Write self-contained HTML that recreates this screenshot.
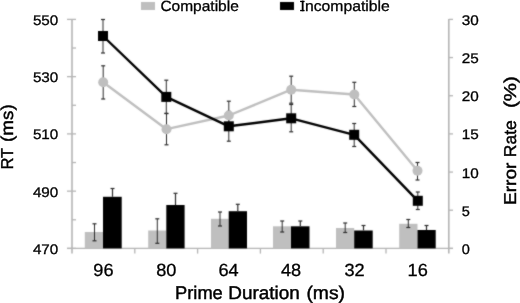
<!DOCTYPE html>
<html><head><meta charset="utf-8"><style>
html,body{margin:0;padding:0;background:#fff;width:520px;height:303px;overflow:hidden}
svg{display:block;filter:grayscale(1)}
text{font-family:"Liberation Sans",sans-serif;text-rendering:geometricPrecision;stroke:#000;stroke-width:0.3px}
.b{stroke-width:0.45px}
</style></head><body>
<svg width="520" height="303" viewBox="0 0 520 303">
<defs><filter id="soft" x="0" y="0" width="520" height="303" filterUnits="userSpaceOnUse" color-interpolation-filters="sRGB"><feConvolveMatrix order="3" kernelMatrix="1 2 1 2 16 2 1 2 1" divisor="28" edgeMode="duplicate"/></filter></defs>
<g filter="url(#soft)">
<rect x="0" y="0" width="520" height="303" fill="#fff"/>
<line x1="72" y1="18.9" x2="72" y2="253.6" stroke="#b4b4b4" stroke-width="1.6"/>
<line x1="448.8" y1="18.9" x2="448.8" y2="253.6" stroke="#b4b4b4" stroke-width="1.6"/>
<line x1="67" y1="248.4" x2="453" y2="248.4" stroke="#b4b4b4" stroke-width="1.3"/>
<line x1="67" y1="19.4" x2="76" y2="19.4" stroke="#b4b4b4" stroke-width="1.3"/>
<line x1="67" y1="76.65" x2="76" y2="76.65" stroke="#b4b4b4" stroke-width="1.3"/>
<line x1="67" y1="133.9" x2="76" y2="133.9" stroke="#b4b4b4" stroke-width="1.3"/>
<line x1="67" y1="191.15" x2="76" y2="191.15" stroke="#b4b4b4" stroke-width="1.3"/>
<line x1="67" y1="248.4" x2="76" y2="248.4" stroke="#b4b4b4" stroke-width="1.3"/>
<line x1="72" y1="48.02" x2="76" y2="48.02" stroke="#b4b4b4" stroke-width="1.3"/>
<line x1="72" y1="105.28" x2="76" y2="105.28" stroke="#b4b4b4" stroke-width="1.3"/>
<line x1="72" y1="162.53" x2="76" y2="162.53" stroke="#b4b4b4" stroke-width="1.3"/>
<line x1="72" y1="219.78" x2="76" y2="219.78" stroke="#b4b4b4" stroke-width="1.3"/>
<line x1="448.8" y1="19.4" x2="453" y2="19.4" stroke="#b4b4b4" stroke-width="1.3"/>
<line x1="448.8" y1="57.57" x2="453" y2="57.57" stroke="#b4b4b4" stroke-width="1.3"/>
<line x1="448.8" y1="95.73" x2="453" y2="95.73" stroke="#b4b4b4" stroke-width="1.3"/>
<line x1="448.8" y1="133.9" x2="453" y2="133.9" stroke="#b4b4b4" stroke-width="1.3"/>
<line x1="448.8" y1="172.07" x2="453" y2="172.07" stroke="#b4b4b4" stroke-width="1.3"/>
<line x1="448.8" y1="210.23" x2="453" y2="210.23" stroke="#b4b4b4" stroke-width="1.3"/>
<line x1="448.8" y1="248.4" x2="453" y2="248.4" stroke="#b4b4b4" stroke-width="1.3"/>
<line x1="134.8" y1="248.4" x2="134.8" y2="253.6" stroke="#b4b4b4" stroke-width="1.3"/>
<line x1="197.6" y1="248.4" x2="197.6" y2="253.6" stroke="#b4b4b4" stroke-width="1.3"/>
<line x1="260.4" y1="248.4" x2="260.4" y2="253.6" stroke="#b4b4b4" stroke-width="1.3"/>
<line x1="323.2" y1="248.4" x2="323.2" y2="253.6" stroke="#b4b4b4" stroke-width="1.3"/>
<line x1="386" y1="248.4" x2="386" y2="253.6" stroke="#b4b4b4" stroke-width="1.3"/>
<rect x="84.8" y="232" width="18.2" height="16.4" fill="#bfbfbf"/>
<rect x="103" y="196.8" width="18.7" height="51.6" fill="#000"/>
<rect x="148.2" y="230.5" width="18.1" height="17.9" fill="#bfbfbf"/>
<rect x="166.3" y="205" width="18.3" height="43.4" fill="#000"/>
<rect x="211" y="218.8" width="17.7" height="29.6" fill="#bfbfbf"/>
<rect x="228.7" y="211.2" width="18.3" height="37.2" fill="#000"/>
<rect x="273" y="226.3" width="18" height="22.1" fill="#bfbfbf"/>
<rect x="291" y="226.3" width="18.5" height="22.1" fill="#000"/>
<rect x="336" y="228" width="18.2" height="20.4" fill="#bfbfbf"/>
<rect x="354.2" y="230.5" width="18.5" height="17.9" fill="#000"/>
<rect x="399.2" y="223.8" width="18.3" height="24.6" fill="#bfbfbf"/>
<rect x="417.5" y="230" width="18.2" height="18.4" fill="#000"/>
<line x1="94.5" y1="223.8" x2="94.5" y2="240.8" stroke="#2c2c2c" stroke-width="1.0"/><line x1="92.5" y1="223.8" x2="96.5" y2="223.8" stroke="#2c2c2c" stroke-width="1.2"/><line x1="92.5" y1="240.8" x2="96.5" y2="240.8" stroke="#2c2c2c" stroke-width="1.2"/>
<line x1="112.5" y1="188.5" x2="112.5" y2="196.8" stroke="#2c2c2c" stroke-width="1.2"/>
<line x1="110.5" y1="188.5" x2="114.5" y2="188.5" stroke="#2c2c2c" stroke-width="1.2"/>
<line x1="157.3" y1="218.8" x2="157.3" y2="243.3" stroke="#2c2c2c" stroke-width="1.0"/><line x1="155.3" y1="218.8" x2="159.3" y2="218.8" stroke="#2c2c2c" stroke-width="1.2"/><line x1="155.3" y1="243.3" x2="159.3" y2="243.3" stroke="#2c2c2c" stroke-width="1.2"/>
<line x1="175.5" y1="193.3" x2="175.5" y2="205" stroke="#2c2c2c" stroke-width="1.2"/>
<line x1="173.5" y1="193.3" x2="177.5" y2="193.3" stroke="#2c2c2c" stroke-width="1.2"/>
<line x1="220" y1="212" x2="220" y2="226" stroke="#2c2c2c" stroke-width="1.0"/><line x1="218" y1="212" x2="222" y2="212" stroke="#2c2c2c" stroke-width="1.2"/><line x1="218" y1="226" x2="222" y2="226" stroke="#2c2c2c" stroke-width="1.2"/>
<line x1="237.8" y1="204.3" x2="237.8" y2="211.2" stroke="#2c2c2c" stroke-width="1.2"/>
<line x1="235.8" y1="204.3" x2="239.8" y2="204.3" stroke="#2c2c2c" stroke-width="1.2"/>
<line x1="282.2" y1="221" x2="282.2" y2="232" stroke="#2c2c2c" stroke-width="1.0"/><line x1="280.2" y1="221" x2="284.2" y2="221" stroke="#2c2c2c" stroke-width="1.2"/><line x1="280.2" y1="232" x2="284.2" y2="232" stroke="#2c2c2c" stroke-width="1.2"/>
<line x1="300.3" y1="221" x2="300.3" y2="226.3" stroke="#2c2c2c" stroke-width="1.2"/>
<line x1="298.3" y1="221" x2="302.3" y2="221" stroke="#2c2c2c" stroke-width="1.2"/>
<line x1="345.2" y1="223" x2="345.2" y2="232.5" stroke="#2c2c2c" stroke-width="1.0"/><line x1="343.2" y1="223" x2="347.2" y2="223" stroke="#2c2c2c" stroke-width="1.2"/><line x1="343.2" y1="232.5" x2="347.2" y2="232.5" stroke="#2c2c2c" stroke-width="1.2"/>
<line x1="363.5" y1="225.5" x2="363.5" y2="230.5" stroke="#2c2c2c" stroke-width="1.2"/>
<line x1="361.5" y1="225.5" x2="365.5" y2="225.5" stroke="#2c2c2c" stroke-width="1.2"/>
<line x1="408.3" y1="219.5" x2="408.3" y2="227.5" stroke="#2c2c2c" stroke-width="1.0"/><line x1="406.3" y1="219.5" x2="410.3" y2="219.5" stroke="#2c2c2c" stroke-width="1.2"/><line x1="406.3" y1="227.5" x2="410.3" y2="227.5" stroke="#2c2c2c" stroke-width="1.2"/>
<line x1="426.5" y1="225.5" x2="426.5" y2="230" stroke="#2c2c2c" stroke-width="1.2"/>
<line x1="424.5" y1="225.5" x2="428.5" y2="225.5" stroke="#2c2c2c" stroke-width="1.2"/>
<polyline points="103.2,82.2 166.5,129.2 228.8,115.5 291.2,89.7 354.3,94.5 417.5,170.8" fill="none" stroke="#bfbfbf" stroke-width="2.4" stroke-linejoin="round"/>
<polyline points="103,36 166.3,96.9 228.8,126.3 291.2,118.3 354.2,134.8 417.8,200.8" fill="none" stroke="#000" stroke-width="2.4" stroke-linejoin="round"/>
<line x1="103.2" y1="65.8" x2="103.2" y2="99" stroke="#2c2c2c" stroke-width="1.0"/><line x1="101.2" y1="65.8" x2="105.2" y2="65.8" stroke="#2c2c2c" stroke-width="1.2"/><line x1="101.2" y1="99" x2="105.2" y2="99" stroke="#2c2c2c" stroke-width="1.2"/>
<line x1="166.5" y1="113.6" x2="166.5" y2="144.8" stroke="#2c2c2c" stroke-width="1.0"/><line x1="164.5" y1="113.6" x2="168.5" y2="113.6" stroke="#2c2c2c" stroke-width="1.2"/><line x1="164.5" y1="144.8" x2="168.5" y2="144.8" stroke="#2c2c2c" stroke-width="1.2"/>
<line x1="228.8" y1="101.2" x2="228.8" y2="129.8" stroke="#2c2c2c" stroke-width="1.0"/><line x1="226.8" y1="101.2" x2="230.8" y2="101.2" stroke="#2c2c2c" stroke-width="1.2"/><line x1="226.8" y1="129.8" x2="230.8" y2="129.8" stroke="#2c2c2c" stroke-width="1.2"/>
<line x1="291.2" y1="76.2" x2="291.2" y2="103.2" stroke="#2c2c2c" stroke-width="1.0"/><line x1="289.2" y1="76.2" x2="293.2" y2="76.2" stroke="#2c2c2c" stroke-width="1.2"/><line x1="289.2" y1="103.2" x2="293.2" y2="103.2" stroke="#2c2c2c" stroke-width="1.2"/>
<line x1="354.3" y1="82.3" x2="354.3" y2="106.5" stroke="#2c2c2c" stroke-width="1.0"/><line x1="352.3" y1="82.3" x2="356.3" y2="82.3" stroke="#2c2c2c" stroke-width="1.2"/><line x1="352.3" y1="106.5" x2="356.3" y2="106.5" stroke="#2c2c2c" stroke-width="1.2"/>
<line x1="417.5" y1="162.5" x2="417.5" y2="180" stroke="#2c2c2c" stroke-width="1.0"/><line x1="415.5" y1="162.5" x2="419.5" y2="162.5" stroke="#2c2c2c" stroke-width="1.2"/><line x1="415.5" y1="180" x2="419.5" y2="180" stroke="#2c2c2c" stroke-width="1.2"/>
<line x1="103" y1="19.5" x2="103" y2="53" stroke="#2c2c2c" stroke-width="1.0"/><line x1="101" y1="19.5" x2="105" y2="19.5" stroke="#2c2c2c" stroke-width="1.2"/><line x1="101" y1="53" x2="105" y2="53" stroke="#2c2c2c" stroke-width="1.2"/>
<line x1="166.3" y1="80.2" x2="166.3" y2="113.3" stroke="#2c2c2c" stroke-width="1.0"/><line x1="164.3" y1="80.2" x2="168.3" y2="80.2" stroke="#2c2c2c" stroke-width="1.2"/><line x1="164.3" y1="113.3" x2="168.3" y2="113.3" stroke="#2c2c2c" stroke-width="1.2"/>
<line x1="228.8" y1="111.4" x2="228.8" y2="141.2" stroke="#2c2c2c" stroke-width="1.0"/><line x1="226.8" y1="111.4" x2="230.8" y2="111.4" stroke="#2c2c2c" stroke-width="1.2"/><line x1="226.8" y1="141.2" x2="230.8" y2="141.2" stroke="#2c2c2c" stroke-width="1.2"/>
<line x1="291.2" y1="104.5" x2="291.2" y2="131.8" stroke="#2c2c2c" stroke-width="1.0"/><line x1="289.2" y1="104.5" x2="293.2" y2="104.5" stroke="#2c2c2c" stroke-width="1.2"/><line x1="289.2" y1="131.8" x2="293.2" y2="131.8" stroke="#2c2c2c" stroke-width="1.2"/>
<line x1="354.2" y1="123.5" x2="354.2" y2="146.5" stroke="#2c2c2c" stroke-width="1.0"/><line x1="352.2" y1="123.5" x2="356.2" y2="123.5" stroke="#2c2c2c" stroke-width="1.2"/><line x1="352.2" y1="146.5" x2="356.2" y2="146.5" stroke="#2c2c2c" stroke-width="1.2"/>
<line x1="417.8" y1="192" x2="417.8" y2="209.5" stroke="#2c2c2c" stroke-width="1.0"/><line x1="415.8" y1="192" x2="419.8" y2="192" stroke="#2c2c2c" stroke-width="1.2"/><line x1="415.8" y1="209.5" x2="419.8" y2="209.5" stroke="#2c2c2c" stroke-width="1.2"/>
<circle cx="103.2" cy="82.2" r="5" fill="#bfbfbf"/>
<circle cx="166.5" cy="129.2" r="5" fill="#bfbfbf"/>
<circle cx="228.8" cy="115.5" r="5" fill="#bfbfbf"/>
<circle cx="291.2" cy="89.7" r="5" fill="#bfbfbf"/>
<circle cx="354.3" cy="94.5" r="5" fill="#bfbfbf"/>
<circle cx="417.5" cy="170.8" r="5" fill="#bfbfbf"/>
<rect x="98" y="31" width="10" height="10" fill="#000"/>
<rect x="161.3" y="91.9" width="10" height="10" fill="#000"/>
<rect x="223.8" y="121.3" width="10" height="10" fill="#000"/>
<rect x="286.2" y="113.3" width="10" height="10" fill="#000"/>
<rect x="349.2" y="129.8" width="10" height="10" fill="#000"/>
<rect x="412.8" y="195.8" width="10" height="10" fill="#000"/>
<rect x="141" y="2" width="14" height="8" fill="#bfbfbf"/>
<rect x="280" y="2" width="14" height="8" fill="#000"/>
</g>
<g fill="#000"><text x="160.4" y="11.2" font-size="14.8" textLength="78.43" lengthAdjust="spacingAndGlyphs">Compatible</text>
<text x="300.59" y="11.2" font-size="14.8" textLength="89.19" lengthAdjust="spacingAndGlyphs">Incompatible</text>
<text x="175.06" y="298.9" font-size="18.4" textLength="47.75" lengthAdjust="spacingAndGlyphs" class="b">Prime</text>
<text x="228.35" y="298.9" font-size="18.4" textLength="71.4" lengthAdjust="spacingAndGlyphs" class="b">Duration</text>
<text x="306.42" y="298.9" font-size="18.4" textLength="38.56" lengthAdjust="spacingAndGlyphs" class="b">(ms)</text>
<text transform="translate(13.2,169.31) rotate(-90)" x="0" y="0" font-size="17.2" textLength="21.31" lengthAdjust="spacingAndGlyphs" class="b">RT</text>
<text transform="translate(13.2,142.02) rotate(-90)" x="0" y="0" font-size="17.2" textLength="37.79" lengthAdjust="spacingAndGlyphs" class="b">(ms)</text>
<text transform="translate(516,204.95) rotate(-90)" x="0" y="0" font-size="17.2" textLength="42.38" lengthAdjust="spacingAndGlyphs" class="b">Error</text>
<text transform="translate(516,157.17) rotate(-90)" x="0" y="0" font-size="17.2" textLength="36.92" lengthAdjust="spacingAndGlyphs" class="b">Rate</text>
<text transform="translate(516,108.03) rotate(-90)" x="0" y="0" font-size="17.2" textLength="31.83" lengthAdjust="spacingAndGlyphs" class="b">(%)</text>
<text x="58.3" y="24.75" font-size="14.0" text-anchor="end" textLength="25.4" lengthAdjust="spacingAndGlyphs">550</text>
<text x="58.3" y="82" font-size="14.0" text-anchor="end" textLength="25.4" lengthAdjust="spacingAndGlyphs">530</text>
<text x="58.3" y="139.25" font-size="14.0" text-anchor="end" textLength="25.4" lengthAdjust="spacingAndGlyphs">510</text>
<text x="58.3" y="196.5" font-size="14.0" text-anchor="end" textLength="25.4" lengthAdjust="spacingAndGlyphs">490</text>
<text x="58.3" y="253.75" font-size="14.0" text-anchor="end" textLength="25.4" lengthAdjust="spacingAndGlyphs">470</text>
<text x="461.8" y="24.85" font-size="14.0" text-anchor="start" textLength="17" lengthAdjust="spacingAndGlyphs">30</text>
<text x="461.8" y="63.02" font-size="14.0" text-anchor="start" textLength="17" lengthAdjust="spacingAndGlyphs">25</text>
<text x="461.8" y="101.18" font-size="14.0" text-anchor="start" textLength="17" lengthAdjust="spacingAndGlyphs">20</text>
<text x="461.8" y="139.35" font-size="14.0" text-anchor="start" textLength="17" lengthAdjust="spacingAndGlyphs">15</text>
<text x="461.8" y="177.52" font-size="14.0" text-anchor="start" textLength="17" lengthAdjust="spacingAndGlyphs">10</text>
<text x="461.8" y="215.68" font-size="14.0" text-anchor="start" textLength="8.1" lengthAdjust="spacingAndGlyphs">5</text>
<text x="461.8" y="253.85" font-size="14.0" text-anchor="start" textLength="8.1" lengthAdjust="spacingAndGlyphs">0</text>
<text x="103.4" y="276.1" font-size="17.6" text-anchor="middle" textLength="20.2" lengthAdjust="spacingAndGlyphs">96</text>
<text x="166.25" y="276.1" font-size="17.6" text-anchor="middle" textLength="20.2" lengthAdjust="spacingAndGlyphs">80</text>
<text x="228.6" y="276.1" font-size="17.6" text-anchor="middle" textLength="20.2" lengthAdjust="spacingAndGlyphs">64</text>
<text x="291.1" y="276.1" font-size="17.6" text-anchor="middle" textLength="20.2" lengthAdjust="spacingAndGlyphs">48</text>
<text x="354.5" y="276.1" font-size="17.6" text-anchor="middle" textLength="20.2" lengthAdjust="spacingAndGlyphs">32</text>
<text x="417.7" y="276.1" font-size="17.6" text-anchor="middle" textLength="20.2" lengthAdjust="spacingAndGlyphs">16</text>
<rect x="300.1" y="0.8" width="4.5" height="1.3"/><rect x="300.1" y="9.9" width="4.5" height="1.3"/></g>
</svg>
</body></html>
